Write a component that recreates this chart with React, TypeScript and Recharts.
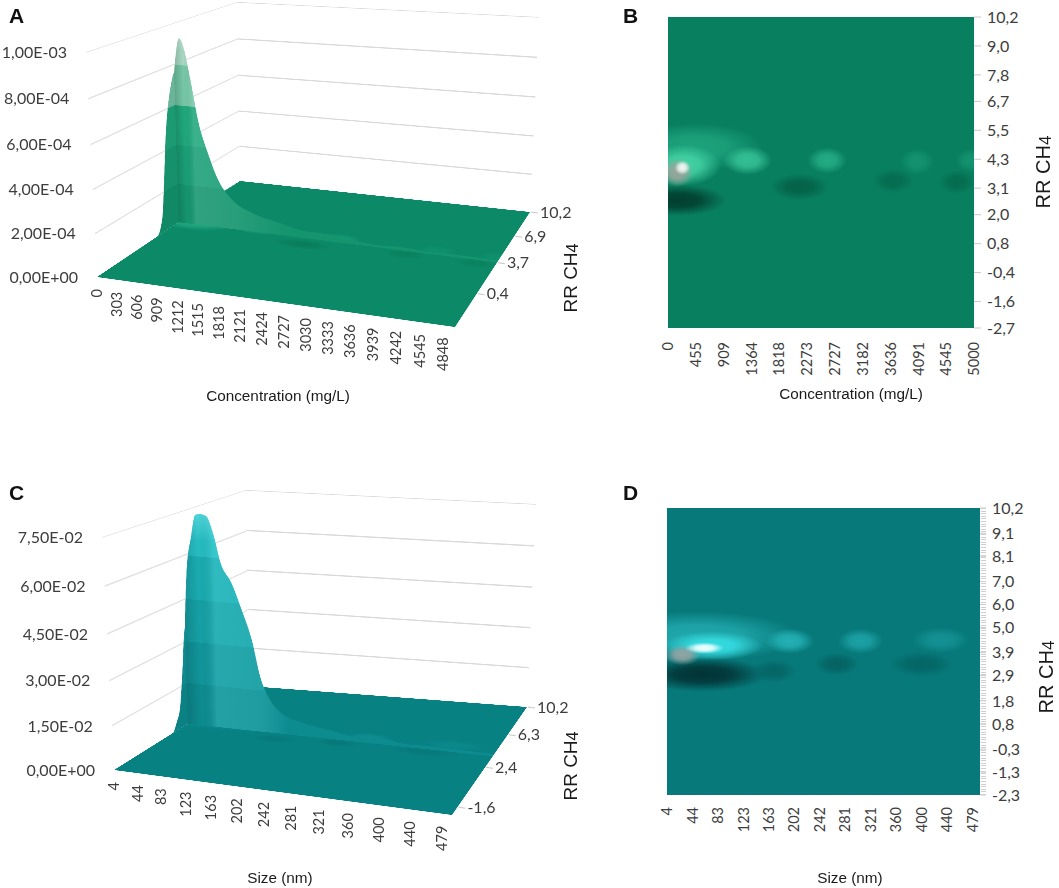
import React from 'react';
import {
  AreaChart,
  Area,
  CartesianGrid,
  ComposedChart,
  Line,
  Scatter,
  ScatterChart,
  XAxis,
  YAxis,
} from 'recharts';

type Pt = [number, number];
type Stop = [number, string];

interface Feature {
  x: number;
  rr: number;
  level: number;
  sx: number;
  sy: number;
}

// ---------- A: 3D surface over concentration ----------
const concTicksA = [0, 303, 606, 909, 1212, 1515, 1818, 2121, 2424, 2727, 3030, 3333, 3636, 3939, 4242, 4545, 4848];
const rrTicksA = [10.2, 6.9, 3.7, 0.4];
const zTicksA = [0, 0.0002, 0.0004, 0.0006, 0.0008, 0.001];
const ridgeRrA = 3.9;
const ridgeConcA = [0, 40, 94, 130, 172, 266, 376, 517, 674, 909, 1238, 1693, 2100, 2500, 2800, 3200, 3600, 4000, 4400, 5000];
const ridgeZA = [
  7.6e-4, 8.6e-4, 9.3e-4, 9.2e-4, 8.8e-4, 7.3e-4, 5.3e-4, 3.8e-4, 2.5e-4, 1.5e-4, 0.95e-4, 0.6e-4,
  0.35e-4, 0.35e-4, 0.2e-4, 0.1e-4, 0.15e-4, 0.08e-4, 0.12e-4, 0.08e-4,
];
// section of the surface at concentration 0
const edgeRrA = [-2.7, 2.0, 2.5, 2.7, 3.0, 3.3, 3.6, 3.9, 4.3, 4.8, 5.4, 6.2, 7.5, 10.2];
const edgeZA = [0, 0, 0.8e-4, 2.2e-4, 4.7e-4, 6.2e-4, 7.1e-4, 7.6e-4, 6.5e-4, 4.0e-4, 2.0e-4, 0.6e-4, 0.1e-4, 0];

// ---------- B: contour over concentration ----------
const concTicksB = [0, 455, 909, 1364, 1818, 2273, 2727, 3182, 3636, 4091, 4545, 5000];
const rrTicksB = [10.2, 9.0, 7.8, 6.7, 5.5, 4.3, 3.1, 2.0, 0.8, -0.4, -1.6, -2.7];
// surface features: centre (x, rr), relative height (-1..1), spread in axis units
const featuresB: Feature[] = [
  { x: 450, rr: 4.8, level: 0.28, sx: 1100, sy: 1.0 },
  { x: 150, rr: 2.6, level: -0.9, sx: 800, sy: 0.65 },
  { x: 1300, rr: 4.25, level: 0.5, sx: 400, sy: 0.6 },
  { x: 2600, rr: 4.25, level: 0.35, sx: 320, sy: 0.55 },
  { x: 4070, rr: 4.2, level: 0.15, sx: 280, sy: 0.55 },
  { x: 4950, rr: 4.25, level: 0.15, sx: 250, sy: 0.5 },
  { x: 2150, rr: 3.15, level: -0.45, sx: 480, sy: 0.55 },
  { x: 3680, rr: 3.4, level: -0.3, sx: 330, sy: 0.5 },
  { x: 4720, rr: 3.35, level: -0.3, sx: 300, sy: 0.5 },
  { x: 250, rr: 4.05, level: 0.65, sx: 620, sy: 0.85 },
  { x: 150, rr: 3.75, level: 0.85, sx: 270, sy: 0.6 },
  { x: 235, rr: 3.95, level: 1, sx: 130, sy: 0.3 },
];

// ---------- C: 3D surface over size ----------
const sizeTicksC = [4, 44, 83, 123, 163, 202, 242, 281, 321, 360, 400, 440, 479];
const rrTicksC = [10.2, 6.3, 2.4, -1.6];
const zTicksC = [0, 0.015, 0.03, 0.045, 0.06, 0.075];
const ridgeRrC = 4.0;
const ridgeSizeC = [4, 8.6, 18, 25, 31.5, 42, 53, 63.5, 80, 95.6, 112, 123, 140, 157, 189, 238, 281, 321, 360, 400, 440, 491];
const ridgeZC = [
  0.036, 0.053, 0.067, 0.074, 0.0745, 0.074, 0.068, 0.0585, 0.052, 0.043, 0.032, 0.0207, 0.0117, 0.0076, 0.0049,
  0.003, 0.0015, 0.002, 0.001, 0.0012, 0.001, 0.0008,
];
// section of the surface at size 4
const edgeRrC = [-2.3, 2.6, 3.0, 3.35, 3.63, 4.0, 4.5, 5.0, 5.6, 6.5, 10.2];
const edgeZC = [0, 0, 0.003, 0.0077, 0.019, 0.035, 0.03, 0.018, 0.008, 0.002, 0];

// ---------- D: contour over size ----------
const sizeTicksD = [4, 44, 83, 123, 163, 202, 242, 281, 321, 360, 400, 440, 479];
const rrTicksD = [10.2, 9.1, 8.1, 7.0, 6.0, 5.0, 3.9, 2.9, 1.8, 0.8, -0.3, -1.3, -2.3];
const featuresD: Feature[] = [
  { x: 50, rr: 4.6, level: 0.3, sx: 160, sy: 1.1 },
  { x: 60, rr: 2.95, level: -0.95, sx: 100, sy: 0.75 },
  { x: 195, rr: 4.4, level: 0.35, sx: 38, sy: 0.55 },
  { x: 305, rr: 4.4, level: 0.25, sx: 35, sy: 0.55 },
  { x: 430, rr: 4.45, level: 0.15, sx: 45, sy: 0.55 },
  { x: 170, rr: 3.1, level: -0.3, sx: 35, sy: 0.5 },
  { x: 268, rr: 3.4, level: -0.35, sx: 35, sy: 0.5 },
  { x: 400, rr: 3.4, level: -0.3, sx: 50, sy: 0.55 },
  { x: 75, rr: 4.2, level: 0.7, sx: 78, sy: 0.62 },
  { x: 28, rr: 3.8, level: 0.85, sx: 28, sy: 0.45 },
  { x: 62, rr: 4.1, level: 1, sx: 30, sy: 0.25 },
];

// ---------- look ----------
const TICK = '#3d3d3d';
const TICK_FONT = "Lato, 'Liberation Sans', sans-serif";
const TITLE_FONT = "'Liberation Sans', Arial, sans-serif";
const GRID = '#d9d9d9';
const M = 6;

const greenStops: Stop[] = [
  [-1, '#02362a'], [-0.5, '#035f45'], [0, '#087f5f'], [0.3, '#1fa67e'], [0.65, '#45d3a5'], [0.85, '#98a49b'], [1, '#eef7f2'],
];
const tealStops: Stop[] = [
  [-1, '#022f31'], [-0.5, '#045859'], [0, '#07797a'], [0.3, '#20a9ad'], [0.7, '#35dde2'], [0.85, '#93a3a3'], [1, '#f2ffff'],
];
const floorStopsA: Stop[] = [
  [-1, '#045c43'], [-0.5, '#07734f'], [0, '#0c8a68'], [0.3, '#16a079'], [0.65, '#2cb98d'], [1, '#2cb98d'],
];
const floorStopsC: Stop[] = [
  [-1, '#045759'], [-0.5, '#066b6d'], [0, '#088183'], [0.3, '#119a9d'], [0.7, '#1fb2b6'], [1, '#1fb2b6'],
];

const commaFmt = (v: number) => v.toFixed(1).replace('.', ',');
const sciFmt = (v: number) => {
  if (v === 0) return '0,00E+00';
  const [m, e] = v.toExponential(2).split('e');
  const n = parseInt(e, 10);
  return `${m.replace('.', ',')}E${n < 0 ? '-' : '+'}${String(Math.abs(n)).padStart(2, '0')}`;
};

function hex(c: string): number[] {
  return [1, 3, 5].map((i) => parseInt(c.slice(i, i + 2), 16));
}
function levelColor(stops: Stop[], level: number): string {
  for (let i = 0; i < stops.length - 1; i++) {
    const [a, ca] = stops[i];
    const [b, cb] = stops[i + 1];
    if (level <= b) {
      const t = Math.max(0, Math.min(1, (level - a) / (b - a)));
      const A = hex(ca);
      const B = hex(cb);
      return `rgb(${A.map((v, k) => Math.round(v + (B[k] - v) * t)).join(',')})`;
    }
  }
  return stops[stops.length - 1][1];
}

// ---------- perspective helpers ----------
interface Homo { a: number; b: number; c: number; d: number; e: number; f: number; g: number; h: number }

function squareToQuad(q: Pt[]): Homo {
  const [[x0, y0], [x1, y1], [x2, y2], [x3, y3]] = q;
  const dx1 = x1 - x2, dx2 = x3 - x2, dx3 = x0 - x1 + x2 - x3;
  const dy1 = y1 - y2, dy2 = y3 - y2, dy3 = y0 - y1 + y2 - y3;
  let g = 0;
  let h = 0;
  if (dx3 !== 0 || dy3 !== 0) {
    const den = dx1 * dy2 - dy1 * dx2;
    g = (dx3 * dy2 - dy3 * dx2) / den;
    h = (dx1 * dy3 - dy1 * dx3) / den;
  }
  return {
    a: x1 - x0 + g * x1, b: x3 - x0 + h * x3, c: x0,
    d: y1 - y0 + g * y1, e: y3 - y0 + h * y3, f: y0,
    g, h,
  };
}

function proj(H: Homo, u: number, v: number): Pt {
  const w = H.g * u + H.h * v + 1;
  return [(H.a * u + H.b * v + H.c) / w, (H.d * u + H.e * v + H.f) / w];
}

// maps the plot rect (w x h, inside margin M) of a chart onto a quad
function Warp({ quad, w, h, children }: { quad: Pt[]; w: number; h: number; children: React.ReactNode }) {
  const H = squareToQuad(quad);
  const m = [H.a / w, H.d / w, 0, H.g / w, H.b / h, H.e / h, 0, H.h / h, 0, 0, 1, 0, H.c, H.f, 0, 1];
  return (
    <div
      style={{
        position: 'absolute',
        left: -M,
        top: -M,
        width: w + 2 * M,
        height: h + 2 * M,
        transformOrigin: `${M}px ${M}px`,
        transform: `matrix3d(${m.join(',')})`,
      }}
    >
      {children}
    </div>
  );
}

function blobDefs(id: string, pts: (Feature & { i: number })[], stops: Stop[]) {
  return (
    <defs>
      {pts.map((p) => {
        const c = levelColor(stops, p.level);
        return (
          <radialGradient key={p.i} id={`${id}-${p.i}`} cx="50%" cy="50%" r="50%">
            <stop offset="0%" stopColor={c} stopOpacity={1} />
            <stop offset="45%" stopColor={c} stopOpacity={0.85} />
            <stop offset="100%" stopColor={c} stopOpacity={0} />
          </radialGradient>
        );
      })}
    </defs>
  );
}

const blobShape = (id: string, pxX: number, pxY: number, alpha: number) => (props: any) => {
  const { cx, cy, payload } = props;
  if (cx == null || cy == null) return <g />;
  return (
    <ellipse cx={cx} cy={cy} rx={payload.sx * pxX} ry={payload.sy * pxY} fill={`url(#${id}-${payload.i})`} opacity={alpha} />
  );
};

// ---------- 3D surface panel ----------
interface Box { FL: Pt; FR: Pt; BR: Pt; BL: Pt; FLt: Pt; FRt: Pt; BRt: Pt; BLt: Pt }

interface SurfaceProps {
  id: string;
  top: number;
  box: Box;
  xDomain: [number, number];
  zMax: number;
  rrDomain: [number, number];
  xTicks: number[];
  zTicks: number[];
  rrTicks: number[];
  ridgeX: number[];
  ridgeZ: number[];
  ridgeRR: number;
  edgeRR: number[];
  edgeZ: number[];
  features: Feature[];
  floorStops: Stop[];
  bands: string[];
  tip: string;
  shade: [number, string, number][];
}

const OV_W = 580;
const OV_H = 440;
const OV_M = 100;
const OV_AX = 20;

function bandGradient(id: string, top: number, bottom: number, bands: string[], tip: string) {
  const stops: React.ReactNode[] = [<stop key="tip" offset={0} stopColor={tip} />];
  for (let k = 0; k < 5; k++) {
    const color = bands[4 - k];
    stops.push(<stop key={`a${k}`} offset={k === 0 ? 0.13 : k * 0.2} stopColor={color} />);
    stops.push(<stop key={`b${k}`} offset={(k + 1) * 0.2} stopColor={color} />);
  }
  return (
    <linearGradient id={id} gradientUnits="userSpaceOnUse" x1={0} y1={top} x2={0} y2={bottom}>
      {stops}
    </linearGradient>
  );
}

function Surface3D(p: SurfaceProps) {
  const { box, id } = p;
  const floorQ: Pt[] = [box.BL, box.BR, box.FR, box.FL];
  const leftQ: Pt[] = [box.FLt, box.BLt, box.BL, box.FL];
  const backQ: Pt[] = [box.BLt, box.BRt, box.BR, box.BL];
  const floorH = squareToQuad(floorQ);
  const leftH = squareToQuad(leftQ);
  const rightH = squareToQuad([box.FRt, box.BRt, box.BR, box.FR]);
  const [x0, x1] = p.xDomain;
  const [r0, r1] = p.rrDomain;
  const t = (p.ridgeRR - r0) / (r1 - r0);
  const planeQ: Pt[] = [proj(leftH, t, 0), proj(rightH, t, 0), proj(rightH, t, 1), proj(leftH, t, 1)];

  const ridge = p.ridgeX.map((x, i) => ({ x, z: p.ridgeZ[i] }));
  const edge = p.edgeRR.map((rr, i) => ({ rr, z: p.edgeZ[i] }));
  // the floor keeps the small ripples; the peak itself is drawn by the sections
  const pts = p.features.filter((f) => f.level < 0.7 && f.level > -0.6).map((f, i) => ({ ...f, i }));
  const gridVals = p.zTicks.filter((v) => v > 0);
  const gridRows = [0, 1].map((u) => {
    const row: Record<string, number> = { u };
    gridVals.forEach((v, i) => {
      row[`g${i}`] = v;
    });
    return row;
  });

  const FW = 600, FH = 300, PW = 600, PH = 400, LW = 300, LH = 300, BW = 400, BH = 300;

  const wall = (w: number, h: number, sw: number) => (
    <ComposedChart width={w + 2 * M} height={h + 2 * M} margin={{ top: M, right: M, bottom: M, left: M }} data={gridRows}>
      <XAxis type="number" dataKey="u" domain={[0, 1]} hide allowDataOverflow />
      <YAxis type="number" domain={[0, p.zMax]} hide allowDataOverflow />
      {gridVals.map((v, i) => (
        <Line key={v} dataKey={`g${i}`} stroke={GRID} strokeWidth={sw} dot={false} isAnimationActive={false} />
      ))}
    </ComposedChart>
  );

  const frontTick = (tp: any) => {
    const u = (tp.payload.value - x0) / (x1 - x0);
    const [px, py] = proj(floorH, u, 1);
    const ty = py + 12;
    return (
      <text x={px} y={ty} transform={`rotate(-90 ${px} ${ty})`} textAnchor="end" dy="0.36em" fontSize={14.5} fill={TICK} fontFamily={TICK_FONT}>
        {tp.payload.value}
      </text>
    );
  };
  const zTick = (tp: any) => {
    const v = 1 - tp.payload.value / p.zMax;
    const [px, py] = proj(leftH, 0, v);
    return (
      <text x={px - 19} y={py} textAnchor="end" dy="0.35em" fontSize={16} fill={TICK} fontFamily={TICK_FONT}>
        {sciFmt(tp.payload.value)}
      </text>
    );
  };
  const depthTick = (tp: any) => {
    const v = (r1 - tp.payload.value) / (r1 - r0);
    const [px, py] = proj(floorH, 1, v);
    return (
      <g>
        <line x1={px + 1} y1={py} x2={px + 8} y2={py + 1} stroke="#c8c8c8" />
        <text x={px + 10} y={py} textAnchor="start" dy="0.35em" fontSize={16} fill={TICK} fontFamily={TICK_FONT}>
          {commaFmt(tp.payload.value)}
        </text>
      </g>
    );
  };

  return (
    <div style={{ position: 'absolute', left: 0, top: p.top, width: OV_W, height: OV_H }}>
      <Warp quad={backQ} w={BW} h={BH}>{wall(BW, BH, 1.8)}</Warp>
      <Warp quad={leftQ} w={LW} h={LH}>{wall(LW, LH, 1.6)}</Warp>
      <Warp quad={floorQ} w={FW} h={FH}>
        <ScatterChart width={FW + 2 * M} height={FH + 2 * M} margin={{ top: M, right: M, bottom: M, left: M }}>
          {blobDefs(`${id}-fl`, pts, p.floorStops)}
          <CartesianGrid fill={levelColor(p.floorStops, 0)} horizontal={false} vertical={false} stroke="none" />
          <XAxis type="number" dataKey="x" domain={p.xDomain} hide allowDataOverflow />
          <YAxis type="number" dataKey="rr" domain={p.rrDomain} hide allowDataOverflow />
          <Scatter
            data={pts}
            isAnimationActive={false}
            shape={blobShape(`${id}-fl`, FW / (x1 - x0), FH / (r1 - r0), 0.6)}
          />
        </ScatterChart>
      </Warp>
      <Warp quad={leftQ} w={LW} h={LH}>
        <AreaChart width={LW + 2 * M} height={LH + 2 * M} margin={{ top: M, right: M, bottom: M, left: M }} data={edge}>
          <defs>{bandGradient(`${id}-eb`, M, M + LH, p.bands, p.tip)}</defs>
          <XAxis type="number" dataKey="rr" domain={p.rrDomain} hide allowDataOverflow />
          <YAxis type="number" domain={[0, p.zMax]} hide allowDataOverflow />
          <Area dataKey="z" type="monotone" stroke="none" fill={`url(#${id}-eb)`} fillOpacity={1} isAnimationActive={false} />
          <Area dataKey="z" type="monotone" stroke="none" fill="#00261a" fillOpacity={0.1} isAnimationActive={false} />
        </AreaChart>
      </Warp>
      <Warp quad={planeQ} w={PW} h={PH}>
        <AreaChart width={PW + 2 * M} height={PH + 2 * M} margin={{ top: M, right: M, bottom: M, left: M }} data={ridge}>
          <defs>
            {bandGradient(`${id}-bands`, M, M + PH, p.bands, p.tip)}
            <linearGradient id={`${id}-shade`} gradientUnits="userSpaceOnUse" x1={M} y1={0} x2={M + PW} y2={0}>
              {p.shade.map(([o, c, a], i) => (
                <stop key={i} offset={o} stopColor={c} stopOpacity={a} />
              ))}
            </linearGradient>
          </defs>
          <XAxis type="number" dataKey="x" domain={p.xDomain} hide allowDataOverflow />
          <YAxis type="number" domain={[0, p.zMax]} hide allowDataOverflow />
          <Area dataKey="z" type="monotone" stroke="none" fill={`url(#${id}-bands)`} fillOpacity={1} isAnimationActive={false} />
          <Area dataKey="z" type="monotone" stroke="none" fill={`url(#${id}-shade)`} fillOpacity={1} isAnimationActive={false} />
        </AreaChart>
      </Warp>
      <div style={{ position: 'absolute', left: 0, top: 0 }}>
        <ComposedChart
          width={OV_W}
          height={OV_H}
          margin={{ top: OV_M, right: OV_M, bottom: OV_M, left: OV_M }}
          data={p.xTicks.map((x) => ({ x }))}
        >
          <XAxis xAxisId="f" type="number" dataKey="x" domain={p.xDomain} ticks={p.xTicks} interval={0} height={OV_AX}
            axisLine={false} tickLine={false} tickSize={0} tick={frontTick} allowDataOverflow />
          <YAxis yAxisId="z" type="number" domain={[0, p.zMax]} ticks={p.zTicks} interval={0} width={OV_AX}
            axisLine={false} tickLine={false} tickSize={0} tick={zTick} allowDataOverflow />
          <YAxis yAxisId="d" orientation="right" type="number" domain={p.rrDomain} ticks={p.rrTicks} interval={0} width={OV_AX}
            axisLine={false} tickLine={false} tickSize={0} tick={depthTick} allowDataOverflow />
        </ComposedChart>
      </div>
    </div>
  );
}

// ---------- contour panel ----------
interface ContourProps {
  id: string;
  left: number;
  top: number;
  width: number;
  height: number;
  mTop: number;
  mLeft: number;
  xAxisH: number;
  yAxisW: number;
  tickLen: number;
  xDomain: [number, number];
  yDomain: [number, number];
  xTicks: number[];
  yTicks: number[];
  features: Feature[];
  stops: Stop[];
  labelGap: number;
}

function Contour(p: ContourProps) {
  const plotW = p.width - p.mLeft - p.yAxisW;
  const plotH = p.height - p.mTop - p.xAxisH;
  const pxX = plotW / (p.xDomain[1] - p.xDomain[0]);
  const pxY = plotH / (p.yDomain[1] - p.yDomain[0]);
  const pts = p.features.map((f, i) => ({ ...f, i }));
  const rotTick = (tp: any) => {
    const x = tp.x;
    const y = tp.y + p.labelGap;
    return (
      <text x={x} y={y} transform={`rotate(-90 ${x} ${y})`} textAnchor="end" dy="0.36em" fontSize={14.5} fill={TICK} fontFamily={TICK_FONT}>
        {tp.payload.value}
      </text>
    );
  };
  return (
    <div style={{ position: 'absolute', left: p.left, top: p.top }}>
      <ScatterChart width={p.width} height={p.height} margin={{ top: p.mTop, right: 0, bottom: 0, left: p.mLeft }}>
        {blobDefs(p.id, pts, p.stops)}
        <CartesianGrid fill={levelColor(p.stops, 0)} horizontal={false} vertical={false} stroke="none" />
        <XAxis type="number" dataKey="x" domain={p.xDomain} allowDataOverflow ticks={p.xTicks} interval={0} height={p.xAxisH}
          axisLine={false} tickLine={false} tickSize={0} tick={rotTick} />
        <YAxis type="number" dataKey="rr" orientation="right" domain={p.yDomain} allowDataOverflow ticks={p.yTicks} interval={0}
          width={p.yAxisW} axisLine={false} tickSize={p.tickLen} tickMargin={6} tickLine={{ stroke: '#c9c9c9' }}
          tick={{ fill: TICK, fontSize: 16, fontFamily: TICK_FONT }} tickFormatter={commaFmt} />
        <Scatter data={pts} isAnimationActive={false} shape={blobShape(p.id, pxX, pxY, 1)} />
      </ScatterChart>
    </div>
  );
}

function RR({ x, y, size }: { x: number; y: number; size: number }) {
  return (
    <text transform={`translate(${x} ${y}) rotate(-90)`} textAnchor="middle" dominantBaseline="central" fontSize={size} fill="#1a1a1a" fontFamily={TITLE_FONT}>
      RR CH<tspan fontSize="0.85em" dy="0.12em">4</tspan>
    </text>
  );
}

export default function App() {
  const boxA: Box = {
    FL: [97, 277], FR: [455, 327], BR: [530, 212], BL: [240, 181],
    FLt: [86, 52], FRt: [467, 87], BRt: [539, 17], BLt: [237, 2],
  };
  const boxC: Box = {
    FL: [114, 330], FR: [452, 375], BR: [527, 267], BL: [248, 246],
    FLt: [102, 97], FRt: [464, 135], BRt: [536, 64], BLt: [246, 50],
  };
  return (
    <div style={{ position: 'absolute', left: 0, top: 0, width: 1059, height: 888, background: '#fff', overflow: 'hidden' }}>
      <Surface3D
        id="sa"
        top={0}
        box={boxA}
        xDomain={[0, 5000]}
        zMax={0.001}
        rrDomain={[-2.7, 10.2]}
        xTicks={concTicksA}
        zTicks={zTicksA}
        rrTicks={rrTicksA}
        ridgeX={ridgeConcA}
        ridgeZ={ridgeZA}
        ridgeRR={ridgeRrA}
        edgeRR={edgeRrA}
        edgeZ={edgeZA}
        features={featuresB}
        floorStops={floorStopsA}
        bands={['#15956e', '#1a9e75', '#20a77c', '#76c6a7', '#a7d6c2']}
        tip="#d4e5dd"
        shade={[[0, '#00281a', 0.2], [0.03, '#00281a', 0], [0.06, '#ffffff', 0.12], [0.2, '#ffffff', 0.08], [0.35, '#ffffff', 0]]}
      />
      <Surface3D
        id="sc"
        top={440}
        box={boxC}
        xDomain={[4, 491]}
        zMax={0.075}
        rrDomain={[-2.3, 10.2]}
        xTicks={sizeTicksC}
        zTicks={zTicksC}
        rrTicks={rrTicksC}
        ridgeX={ridgeSizeC}
        ridgeZ={ridgeZC}
        ridgeRR={ridgeRrC}
        edgeRR={edgeRrC}
        edgeZ={edgeZC}
        features={featuresD}
        floorStops={floorStopsC}
        bands={['#0d8c90', '#11959a', '#15a0a5', '#1aabb0', '#25bcc1']}
        tip="#52d8dc"
        shade={[[0, '#002a30', 0.2], [0.05, '#002a30', 0], [0.1, '#8affff', 0.18], [0.25, '#8affff', 0.14], [0.34, '#8affff', 0]]}
      />
      <Contour
        id="cb"
        left={600}
        top={0}
        width={459}
        height={420}
        mTop={17}
        mLeft={68}
        xAxisH={92}
        yAxisW={85}
        tickLen={7}
        xDomain={[0, 5000]}
        yDomain={[-2.7, 10.2]}
        xTicks={concTicksB}
        yTicks={rrTicksB}
        features={featuresB}
        stops={greenStops}
        labelGap={12}
      />
      <Contour
        id="cd"
        left={600}
        top={440}
        width={459}
        height={448}
        mTop={68}
        mLeft={67}
        xAxisH={93}
        yAxisW={79}
        tickLen={6}
        xDomain={[4, 491]}
        yDomain={[-2.3, 10.2]}
        xTicks={sizeTicksD}
        yTicks={rrTicksD}
        features={featuresD}
        stops={tealStops}
        labelGap={10}
      />
      <div
        style={{
          position: 'absolute',
          left: 981,
          top: 508,
          width: 5,
          height: 287,
          background: 'repeating-linear-gradient(to bottom, #cfcfcf 0px, #cfcfcf 1px, transparent 1px, transparent 2.6px)',
        }}
      />
      <svg width={1059} height={888} style={{ position: 'absolute', left: 0, top: 0, pointerEvents: 'none' }}>
        <g fontFamily={TITLE_FONT} fontWeight="bold" fontSize={21} fill="#111">
          <text x={9} y={23}>A</text>
          <text x={623} y={23}>B</text>
          <text x={9} y={500}>C</text>
          <text x={623} y={500}>D</text>
        </g>
        <g fontFamily={TITLE_FONT} fontSize={15.3} fill="#1a1a1a" textAnchor="middle" dominantBaseline="central">
          <text x={278} y={395}>Concentration (mg/L)</text>
          <text x={851} y={393}>Concentration (mg/L)</text>
          <text x={280} y={877}>Size (nm)</text>
          <text x={850} y={877}>Size (nm)</text>
        </g>
        <RR x={570} y={278} size={19} />
        <RR x={570} y={766} size={19} />
        <RR x={1043} y={172} size={20} />
        <RR x={1046} y={677} size={20} />
      </svg>
    </div>
  );
}
